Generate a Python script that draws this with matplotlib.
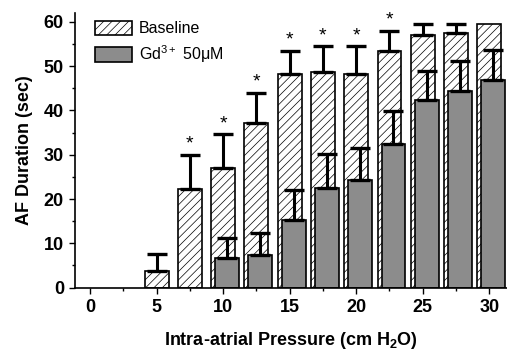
import numpy as np
import matplotlib.pyplot as plt
from matplotlib.ticker import MultipleLocator

plt.rcParams['font.family'] = ['Liberation Sans', 'DejaVu Sans']
plt.rcParams['mathtext.fontset'] = 'custom'
plt.rcParams['mathtext.rm'] = 'Liberation Sans'
plt.rcParams['mathtext.bf'] = 'Liberation Sans:bold'
plt.rcParams['hatch.linewidth'] = 0.5

# presion intra-auricular (cm H2O) y duracion de FA (s)
presion = [5, 7.5, 10, 12.5, 15, 17.5, 20, 22.5, 25, 27.5, 30]
basal = [3.8, 22.2, 26.9, 37.2, 48.2, 48.7, 48.3, 53.5, 57.0, 57.4, 59.6]
basal_err = [3.8, 7.7, 7.7, 6.8, 5.3, 5.8, 6.2, 4.5, 2.5, 2.1, 0.0]
presion_gd = [10, 12.5, 15, 17.5, 20, 22.5, 25, 27.5, 30]
gd = [6.6, 7.3, 15.2, 22.6, 24.3, 32.5, 42.3, 44.4, 46.8]
gd_err = [4.6, 5.1, 6.8, 7.5, 7.3, 7.3, 6.6, 6.7, 6.8]
significativo = [7.5, 10, 12.5, 15, 17.5, 20, 22.5]

ancho = 1.8
desplaz = 0.3

fig = plt.figure(figsize=(5.07, 3.52), dpi=100)
ax = fig.add_axes([0.148, 0.183, 0.852, 0.78])

x_b = np.array(presion)
x_g = np.array(presion_gd) + desplaz

ax.bar(x_b, basal, width=ancho, color='white', edgecolor='black',
       linewidth=1.2, hatch='////', zorder=1, label='Baseline')
con_err = np.array(basal_err) > 0
ax.errorbar(x_b[con_err], np.array(basal)[con_err],
            yerr=[np.zeros(con_err.sum()), np.array(basal_err)[con_err]],
            fmt='none', ecolor='black', elinewidth=2.2, capsize=7,
            capthick=2.4, zorder=1.5)

ax.bar(x_g, gd, width=ancho, color='#8c8c8c', edgecolor='black',
       linewidth=1.2, zorder=2, label=r'Gd$^{3+}$ 50μM')
ax.errorbar(x_g, gd, yerr=[np.zeros(len(gd)), gd_err], fmt='none',
            ecolor='black', elinewidth=2.2, capsize=7, capthick=2.4, zorder=3)

for p in significativo:
    i = presion.index(p)
    ax.text(p, basal[i] + basal_err[i] + 0.5, '*', ha='center', va='bottom',
            fontsize=14)

ax.set_xlim(-1.13, 31.33)
ax.set_ylim(0, 62)
ax.xaxis.set_major_locator(MultipleLocator(5))
ax.xaxis.set_minor_locator(MultipleLocator(2.5))
ax.yaxis.set_major_locator(MultipleLocator(10))
ax.yaxis.set_minor_locator(MultipleLocator(5))
ax.tick_params(which='major', direction='out', length=4, width=1,
               labelsize=13, pad=4)
ax.tick_params(which='minor', direction='out', length=2.5, width=1)
for lbl in ax.get_xticklabels() + ax.get_yticklabels():
    lbl.set_fontweight('bold')

ax.spines['top'].set_visible(False)
ax.spines['right'].set_visible(False)
ax.spines['left'].set_linewidth(1.2)
ax.spines['bottom'].set_linewidth(1.2)

ax.set_xlabel(r'Intra-atrial Pressure (cm H$_\mathbf{2}$O)', fontsize=13,
              fontweight='bold', labelpad=10)
ax.set_ylabel('AF Duration (sec)', fontsize=13, fontweight='bold', labelpad=8)

ax.legend(loc='upper left', bbox_to_anchor=(0.014, 1.025), frameon=False,
          fontsize=11.5, handlelength=2.3, handleheight=1.0, handletextpad=0.4,
          labelspacing=0.45)

fig.savefig('out.png', dpi=100)
